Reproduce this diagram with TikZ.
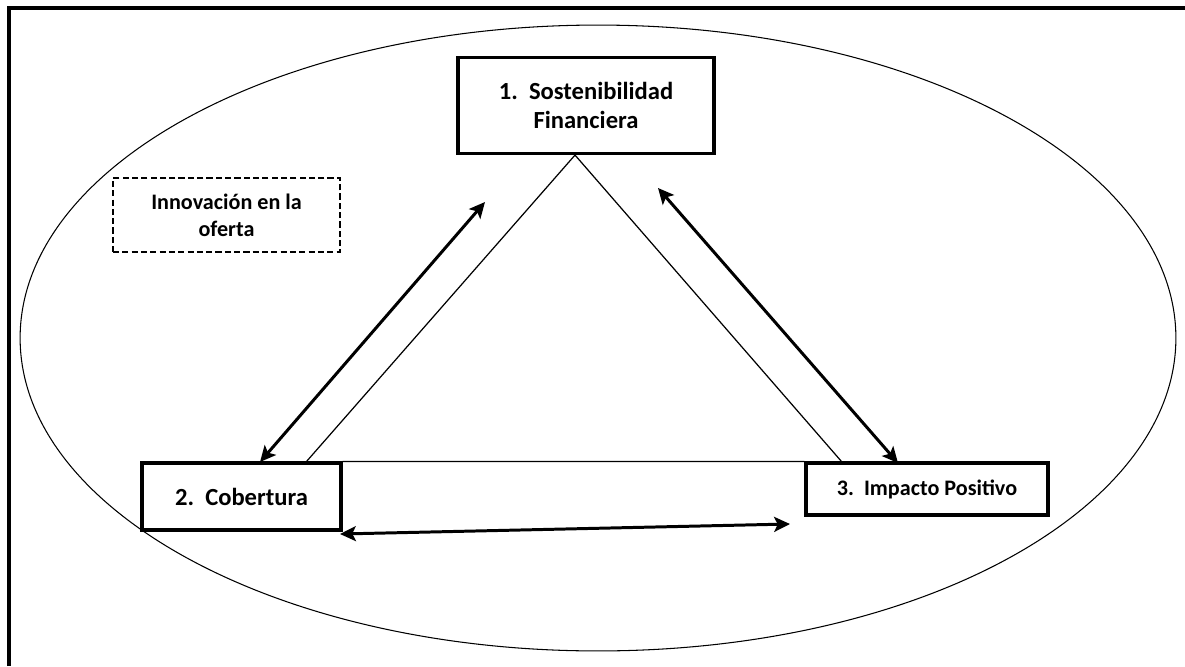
\documentclass[tikz,border=0pt]{standalone}
\usepackage{fontspec}
\setmainfont{Carlito}
\usetikzlibrary{arrows.meta,calc,positioning}
\tikzstyle{box}=[draw,line width=1.8pt,align=center,inner sep=0pt,font=\bfseries\fontsize{14}{17}\selectfont]
\tikzstyle{dashbox}=[draw,line width=1.6pt,dash pattern=on 3.5pt off 1.8pt,align=center,inner sep=0pt,font=\bfseries\fontsize{12.6}{15.5}\selectfont]
\tikzstyle{link}=[line width=0.7pt]
\tikzstyle{biarrow}=[line width=1.7pt,{Stealth[length=9pt,width=8.5pt,inset=2pt]}-{Stealth[length=9pt,width=8.5pt,inset=2pt]}]

\begin{document}
\begin{tikzpicture}[x=0.02cm,y=-0.02cm]
    \useasboundingbox (0,0) rectangle (1185,666);
    % frame and ellipse
    \draw[line width=2pt] (9,666) -- (9,8) -- (1185,8);
    \draw[line width=0.6pt] (598,338) ellipse [x radius=11.56cm,y radius=6.26cm];

    \node[box,minimum width=5.12cm,minimum height=1.92cm] (sost) at (586,105.5) {1.\ \ Sostenibilidad\\Financiera};
    \node[box,minimum width=3.98cm,minimum height=1.34cm] (cob) at (241.5,496.5) {2.\ \ Cobertura};
    \node[box,minimum width=4.84cm,minimum height=1.04cm,font=\bfseries\fontsize{12.6}{15}\selectfont] (imp) at (927,489) {3.\ \ Impacto Positivo};
    \node[dashbox,minimum width=4.54cm,minimum height=1.48cm] (innov) at (226.5,215) {Innovación en la\\oferta};

    % triangle
    \coordinate (apex) at ($(sost.south)+(-11,0)$);
    \draw[link] (apex) -- ($(cob.north east)+(-36,0)$);
    \draw[link] (apex) -- ($(imp.north west)+(37,0)$);
    \draw[link] (cob.north east) -- (imp.north west);

    % arrows
    \coordinate (a1) at (260,462);
    \coordinate (a2) at (485,202);
    \coordinate (b1) at (658,188);
    \coordinate (b2) at (898,463);
    \coordinate (c1) at (340,534);
    \coordinate (c2) at (790,524);
    \draw[biarrow] (a1) -- (a2);
    \draw[biarrow] (b1) -- (b2);
    \draw[biarrow] (c1) -- (c2);
\end{tikzpicture}
\end{document}
